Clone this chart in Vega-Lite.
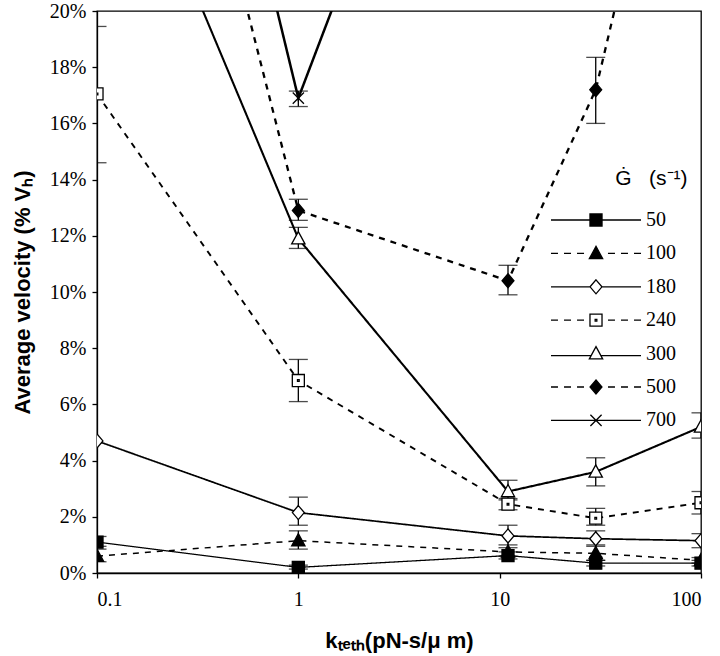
{
  "$schema": "https://vega.github.io/schema/vega-lite/v6.json",
  "width": 604,
  "height": 562,
  "autosize": "none",
  "padding": {"left": 97, "top": 11, "right": 19, "bottom": 83},
  "background": "white",
  "config": {
    "view": {"stroke": "black", "strokeWidth": 1.3},
    "axis": {"domainColor": "black", "domainWidth": 1.3, "tickColor": "black", "tickWidth": 1.3, "grid": false,
             "labelFont": "Liberation Serif", "labelFontSize": 20, "labelColor": "black",
             "titleFont": "Liberation Sans", "titleFontSize": 22, "titleFontWeight": "bold", "titleColor": "black"}
  },
  "data": {"values": [
    {"s": "50", "k": 0.1, "v": 1.1, "lo": 0.95, "hi": 1.3},
    {"s": "50", "k": 1, "v": 0.2, "lo": 0.14, "hi": 0.28},
    {"s": "50", "k": 11, "v": 0.62, "lo": 0.5, "hi": 0.75},
    {"s": "50", "k": 30, "v": 0.35, "lo": 0.25, "hi": 0.45},
    {"s": "50", "k": 100, "v": 0.35, "lo": 0.25, "hi": 0.45},
    {"s": "100", "k": 0.1, "v": 0.6, "lo": 0.4, "hi": 0.85},
    {"s": "100", "k": 1, "v": 1.15, "lo": 0.85, "hi": 1.5},
    {"s": "100", "k": 11, "v": 0.75, "lo": 0.6, "hi": 0.9},
    {"s": "100", "k": 30, "v": 0.7, "lo": 0.45, "hi": 1.0},
    {"s": "100", "k": 100, "v": 0.45, "lo": 0.35, "hi": 0.55},
    {"s": "180", "k": 0.1, "v": 4.7, "lo": null, "hi": null},
    {"s": "180", "k": 1, "v": 2.15, "lo": 1.7, "hi": 2.7},
    {"s": "180", "k": 11, "v": 1.32, "lo": 1.0, "hi": 1.7},
    {"s": "180", "k": 30, "v": 1.22, "lo": 0.95, "hi": 1.5},
    {"s": "180", "k": 100, "v": 1.15, "lo": 0.9, "hi": 1.4},
    {"s": "240", "k": 0.1, "v": 17.05, "lo": 14.6, "hi": 19.45},
    {"s": "240", "k": 1, "v": 6.85, "lo": 6.1, "hi": 7.6},
    {"s": "240", "k": 11, "v": 2.45, "lo": 2.25, "hi": 2.65},
    {"s": "240", "k": 30, "v": 1.95, "lo": 1.7, "hi": 2.3},
    {"s": "240", "k": 100, "v": 2.5, "lo": 2.1, "hi": 2.9},
    {"s": "300", "k": 0.1, "v": 29, "lo": null, "hi": null},
    {"s": "300", "k": 1, "v": 11.9, "lo": 11.55, "hi": 12.3},
    {"s": "300", "k": 11, "v": 2.9, "lo": 2.6, "hi": 3.3},
    {"s": "300", "k": 30, "v": 3.6, "lo": 3.1, "hi": 4.1},
    {"s": "300", "k": 100, "v": 5.2, "lo": 4.8, "hi": 5.7},
    {"s": "500", "k": 0.1, "v": 41, "lo": null, "hi": null},
    {"s": "500", "k": 1, "v": 12.9, "lo": 12.55, "hi": 13.3},
    {"s": "500", "k": 11, "v": 10.4, "lo": 9.9, "hi": 10.95},
    {"s": "500", "k": 30, "v": 17.2, "lo": 16.0, "hi": 18.35},
    {"s": "500", "k": 100, "v": 33, "lo": null, "hi": null},
    {"s": "700", "k": 0.1, "v": 46.5, "lo": null, "hi": null},
    {"s": "700", "k": 1, "v": 16.9, "lo": 16.6, "hi": 17.15},
    {"s": "700", "k": 11, "v": 36.5, "lo": null, "hi": null}
  ]},
  "encoding": {
    "x": {"field": "k", "type": "quantitative",
          "scale": {"type": "log", "domain": [0.1, 100], "nice": false},
          "axis": {"values": [0.1, 1, 10, 100], "format": "~g", "tickSize": 5, "labelPadding": 11,
                   "title": "kₜₑₜₕ(pN-s/μ m)", "titleX": 302, "titleY": 67, "titleBaseline": "middle"}}
  },
  "layer": [
    {
      "mark": {"type": "line", "clip": true, "color": "black"},
      "encoding": {
        "y": {"field": "v", "type": "quantitative",
              "scale": {"domain": [0, 20], "nice": false},
              "axis": {"values": [0, 2, 4, 6, 8, 10, 12, 14, 16, 18, 20], "labelExpr": "datum.value + '%'",
                       "tickSize": 5, "labelPadding": 6,
                       "title": "Average velocity (% Vₕ)", "titleX": -75, "titleY": 281, "titleBaseline": "middle", "titleAngle": -90}},
        "detail": {"field": "s"},
        "strokeDash": {"field": "s", "type": "nominal", "legend": null,
                       "scale": {"domain": ["50", "100", "180", "240", "300", "500", "700"],
                                 "range": [[1, 0], [6, 6], [1, 0], [6, 6], [1, 0], [6, 6], [1, 0]]}},
        "strokeWidth": {"field": "s", "type": "nominal", "legend": null,
                        "scale": {"domain": ["50", "100", "180", "240", "300", "500", "700"],
                                  "range": [1.3, 2.5, 1.3, 2.5, 1.3, 2.5, 1.3]}}
      }
    },
    {
      "transform": [{"filter": "datum.lo != null"}],
      "mark": {"type": "errorbar", "clip": true, "color": "black", "thickness": 1.3, "ticks": {"size": 19, "thickness": 1.3, "color": "black"}},
      "encoding": {
        "y": {"field": "lo", "type": "quantitative", "title": "Average velocity (% Vₕ)"},
        "y2": {"field": "hi"}
      }
    },
    {
      "mark": {"type": "point", "clip": true, "filled": true, "stroke": "black", "strokeWidth": 1.3, "opacity": 1, "size": 196},
      "encoding": {
        "y": {"field": "v", "type": "quantitative", "title": "Average velocity (% Vₕ)"},
        "shape": {"field": "s", "type": "nominal", "legend": null,
                  "scale": {"domain": ["50", "100", "180", "240", "300", "500", "700"],
                            "range": ["M-0.86,-0.86H0.86V0.86H-0.86Z",
                                      "M0,-1L0.95,0.75H-0.95Z",
                                      "M0,-1L0.85,0L0,1L-0.85,0Z",
                                      "M-0.86,-0.86H0.86V0.86H-0.86ZM-0.12,-0.12H0.12V0.12H-0.12Z",
                                      "M0,-1L0.95,0.75H-0.95Z",
                                      "M0,-1L0.85,0L0,1L-0.85,0Z",
                                      "M-0.8,-0.8L0.8,0.8M-0.8,0.8L0.8,-0.8"]}},
        "fill": {"field": "s", "type": "nominal", "legend": null,
                 "scale": {"domain": ["50", "100", "180", "240", "300", "500", "700"],
                           "range": ["black", "black", "white", "white", "white", "black", "white"]}}
      }
    },
    {
      "mark": {"type": "point", "clip": true, "filled": true, "strokeWidth": 1.3, "opacity": 0, "size": 196},
      "encoding": {
        "y": {"field": "v", "type": "quantitative", "title": "Average velocity (% Vₕ)"},
        "shape": {"field": "s", "type": "nominal", "title": "\u200b\u00a0\u00a0\u00a0\u00a0\u00a0Ġ\u00a0\u00a0\u00a0(s⁻¹)",
                  "scale": {"domain": ["50", "100", "180", "240", "300", "500", "700"],
                            "range": ["M-6.43,0H-0.86M0.86,0H6.43M-0.86,-0.86H0.86V0.86H-0.86Z",
                                      "M-6.43,0H-5.43M-4.57,0H-3.57M-2.71,0H-1.71M1.71,0H2.71M3.57,0H4.57M5.43,0H6.43M0,-1L0.95,0.75H-0.95Z",
                                      "M-6.43,0H-0.85M0.85,0H6.43M0,-1L0.85,0L0,1L-0.85,0Z",
                                      "M-6.43,0H-5.43M-4.57,0H-3.57M-2.71,0H-1.71M1.71,0H2.71M3.57,0H4.57M5.43,0H6.43M-0.86,-0.86H0.86V0.86H-0.86ZM-0.12,-0.12H0.12V0.12H-0.12Z",
                                      "M-6.43,0.3H-0.7M0.7,0.3H6.43M0,-1L0.95,0.75H-0.95Z",
                                      "M-6.43,0H-5.43M-4.57,0H-3.57M-2.71,0H-1.71M1.71,0H2.71M3.57,0H4.57M5.43,0H6.43M0,-1L0.85,0L0,1L-0.85,0Z",
                                      "M-6.43,0H6.43M-0.8,-0.8L0.8,0.8M-0.8,0.8L0.8,-0.8"]},
                  "legend": {"orient": "none", "legendX": 489, "legendY": 157, "symbolOpacity": 1, "symbolSize": 196,
                             "symbolStrokeWidth": 1.3, "labelOffset": 40,
                             "labelFont": "Liberation Serif", "labelFontSize": 20, "labelColor": "black",
                             "titleFont": "Liberation Sans", "titleFontSize": 21, "titleFontWeight": "normal", "titleColor": "black",
                             "titleAnchor": "start", "titlePadding": 21, "rowPadding": 13.4}},
        "fill": {"field": "s", "type": "nominal", "title": "\u200b\u00a0\u00a0\u00a0\u00a0\u00a0Ġ\u00a0\u00a0\u00a0(s⁻¹)",
                 "scale": {"domain": ["50", "100", "180", "240", "300", "500", "700"],
                           "range": ["black", "black", "white", "white", "white", "black", "white"]}},
        "stroke": {"field": "s", "type": "nominal", "title": "\u200b\u00a0\u00a0\u00a0\u00a0\u00a0Ġ\u00a0\u00a0\u00a0(s⁻¹)",
                   "scale": {"domain": ["50", "100", "180", "240", "300", "500", "700"],
                             "range": ["black", "black", "black", "black", "black", "black", "black"]}}
      }
    }
  ],
  "resolve": {"scale": {"shape": "independent", "fill": "independent", "stroke": "independent"}, "legend": {"shape": "independent", "fill": "independent", "stroke": "independent"}}
}
